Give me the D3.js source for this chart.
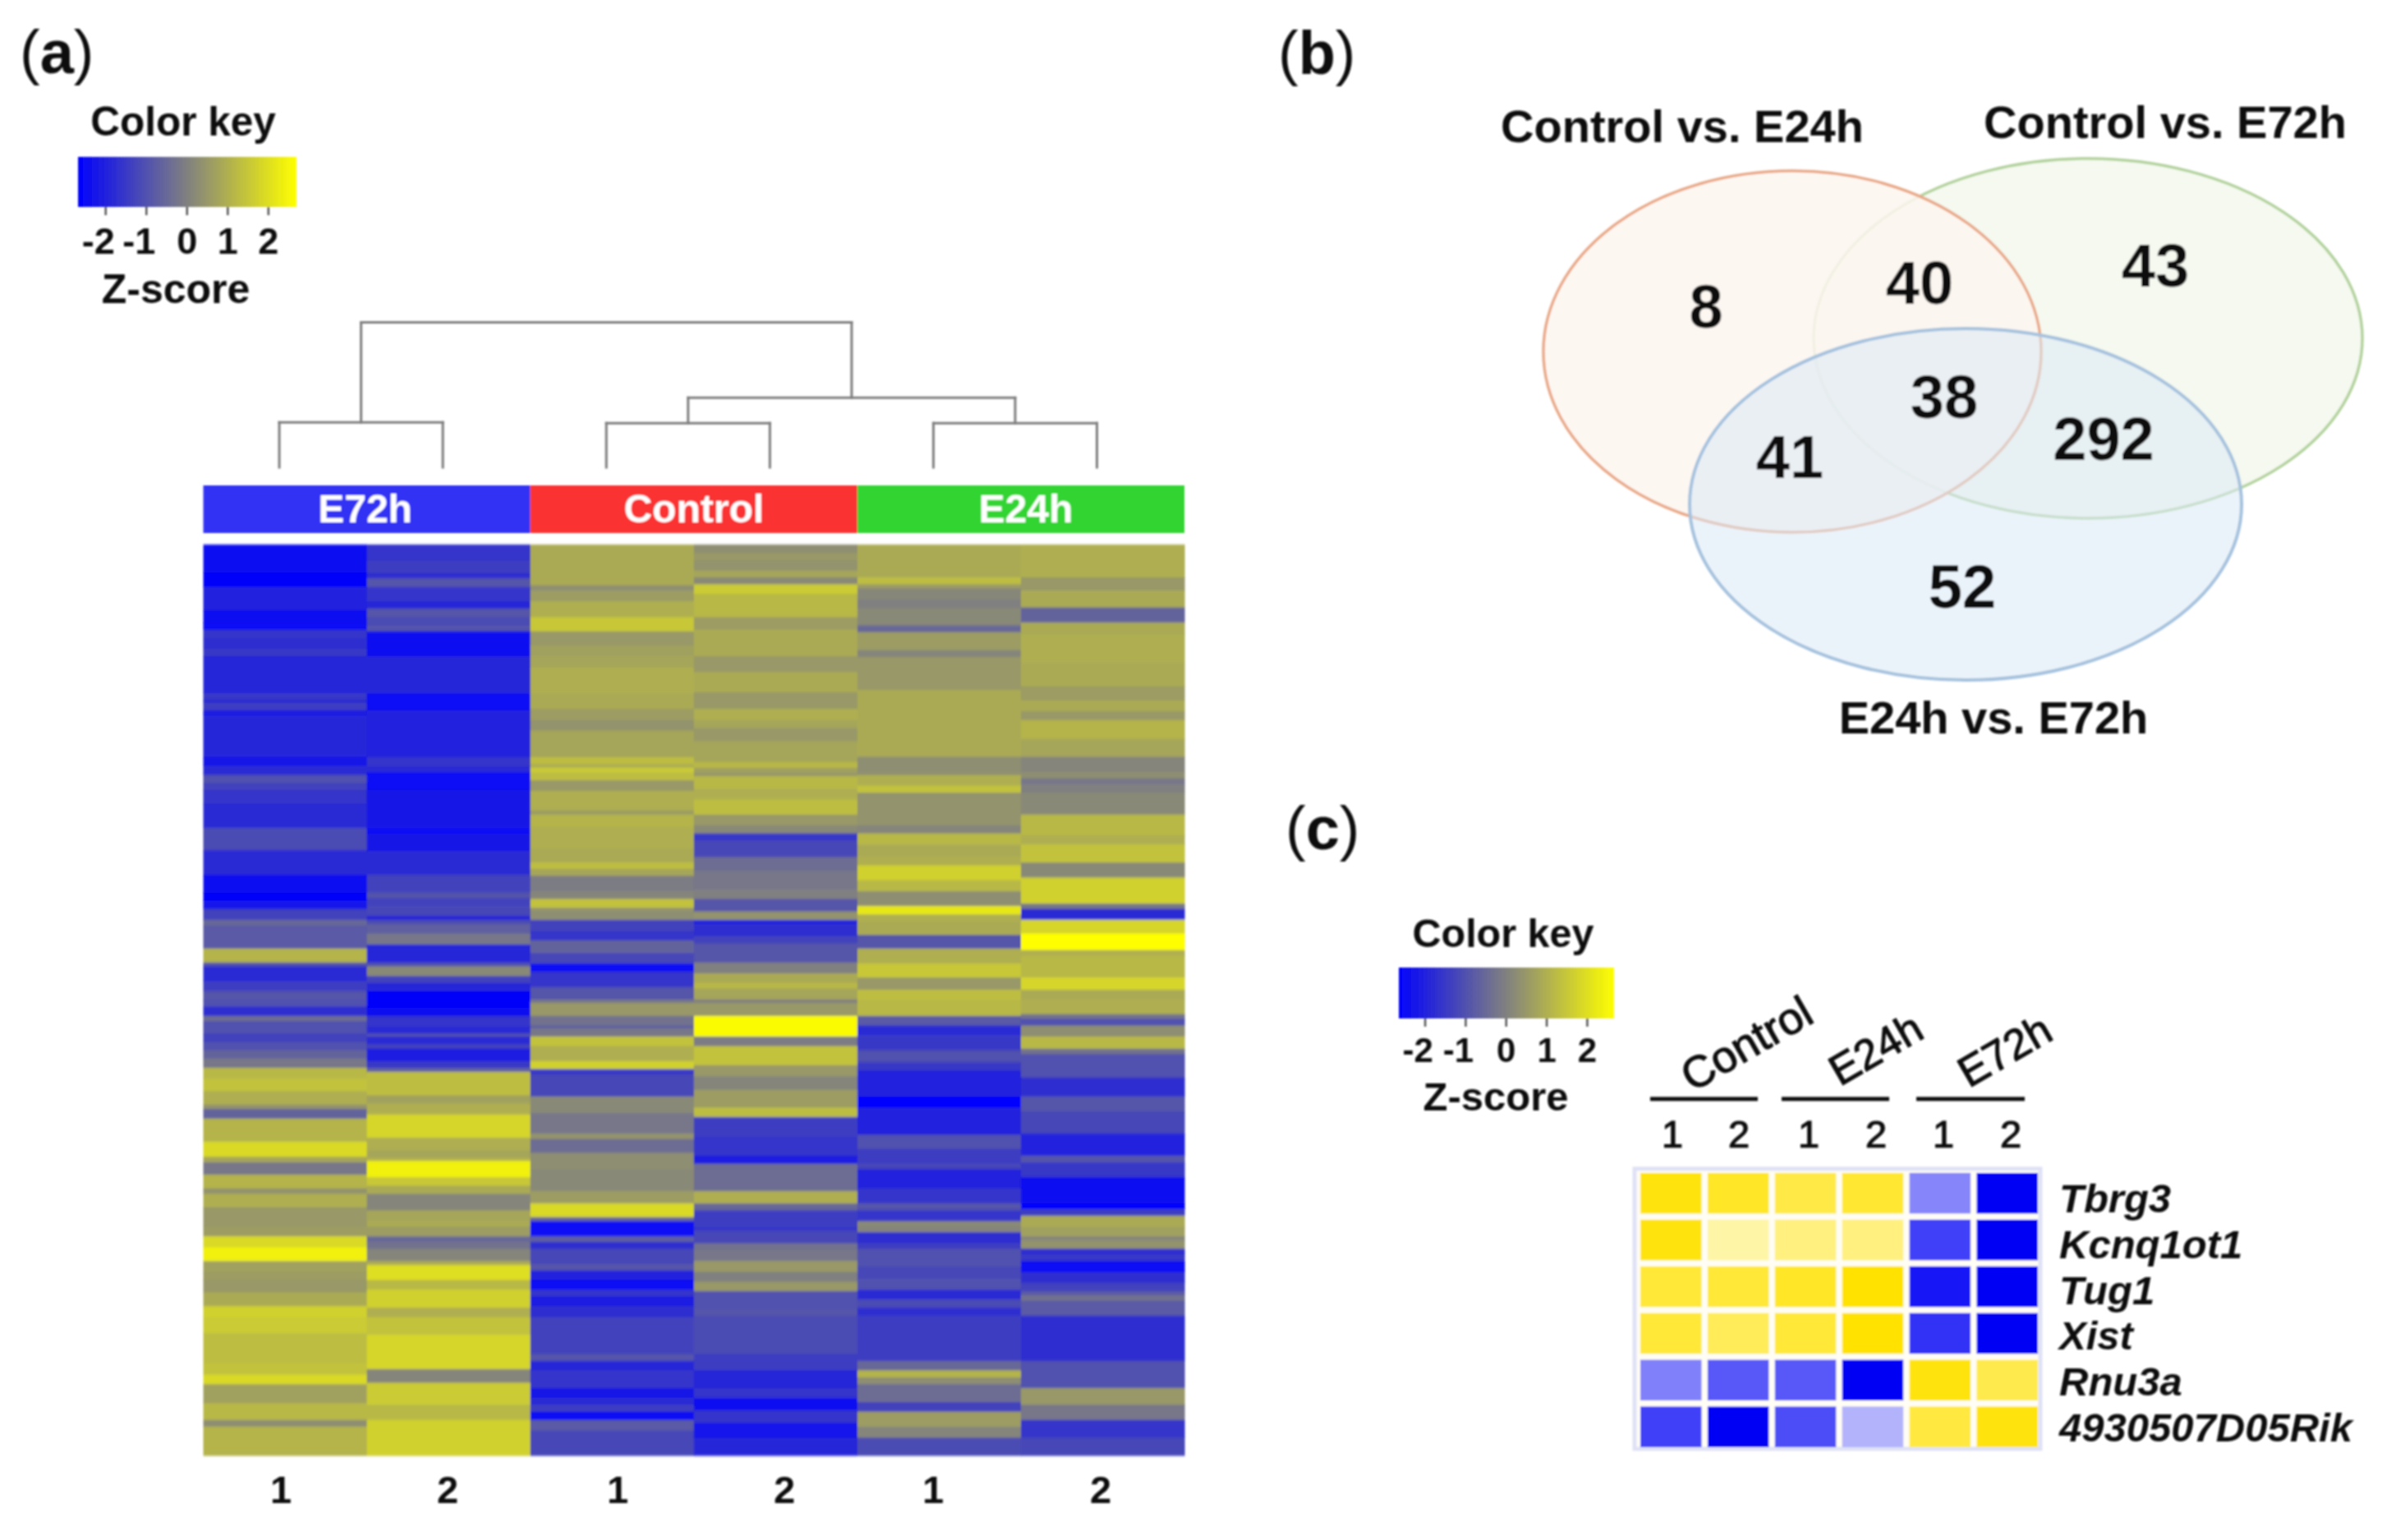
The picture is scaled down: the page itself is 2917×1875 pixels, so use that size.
<!DOCTYPE html>
<html><head><meta charset="utf-8">
<script src="https://cdn.jsdelivr.net/npm/d3@7/dist/d3.min.js"></script>
<style>html,body{margin:0;padding:0;background:#fff;overflow:hidden}svg{display:block}text{font-family:"Liberation Sans",Arial,sans-serif;fill:#111}</style>
</head><body>
<script>
// ---- Panel (a) data: heat-map columns as [last row, z-score] runs over 514 genes
const e72h1=[[15.5,-2.4],[24,-2.6],[37,-2.0],[44,-2.4],[48,-2.5],[52.5,-1.6],[58.7,-1.7],[63,-1.5],[84,-1.9],[87,-1.5],[89.6,-1.7],[93.5,-1.4],[96.6,-2.1],[119.7,-1.9],[125,-2.2],[128.4,-1.8],
[130,-1.8],[134.6,-1],[138.4,-1.3],[146,-1.6],[160,-1.8],[172.4,-1.1],[186.3,-1.8],[196.4,-2.4],[201,-2.6],[205.6,-2.3],[211.8,-1.3],[215,-.5],[228,-.8],[235.8,1.1],[238,-.9],[246.6,-1.8],[252,-1.4],[256.7,-.9],
[260.6,-1],[266,-1.7],[269,-.4],[276,-1],[280.6,-1.3],[285.3,-1],[290,-.6],[295.3,-.2],[301.5,1.2],[308.5,1.4],[316,1],[318.5,.4],[324,-.6],[337,1.1],[345.5,1.9],[348.6,.8],[355.6,-.2],[363.3,1.1],[366.4,.4],[374,1],[385,.5],
[390.4,.6],[396.6,1.9],[404.3,2.4],[410.5,.7],[415,.6],[422,.5],[429.8,.9],[436,1.7],[445,1.6],[462,1.3],[468.4,1.4],[473.8,1.9],[484.6,.7],[494,1.2],[497.8,.3],[514,1.1]];
const e72h2=[[9,-1.6],[16,-1.4],[19,-1.7],[24,-.9],[32,-1.6],[36,-1.9],[41,-.9],[46,-1.1],[49,-.9],[63,-2.4],[84,-1.9],[93.5,-2.5],[120,-2],[125,-1.6],[128.4,-1.8],
[138.4,-2.5],[160,-2.2],[163,-2.5],[173,-2.2],[186.3,-1.8],[196.4,-1.3],[199.5,-.9],[204,-1.3],[209.5,-1.2],[211.8,-1.9],[214,-1.1],[219.5,-.7],[225.7,-.2],[235.8,-1.9],[238,-1],[243.5,.2],[247.4,-1.3],[252,-1.9],[256.7,-2.6],
[261.3,-2.6],[266,-2.4],[272,-1.6],[276,-1.8],[277.6,-.9],[282,-1.8],[284.5,-1.3],[291.5,-2.1],[295.3,-1.5],[297.6,-.7],[310.8,1.3],[315.4,.7],[321.6,1],[334.7,1.8],[341.7,1],[346.3,.8],[347.9,1.1],[357,2.4],[361.8,1.5],[366.4,.9],[375.7,.1],[381.8,.8],[385,.9],
[390.4,.6],[393.5,-.5],[397.4,-.3],[404.3,.1],[406.6,.9],[415,2],[420.5,1.2],[430.6,1.7],[436,1],[446,1.4],[465.3,1.8],[473,.1],[485.4,1.6],[494,1.2],[514,1.7]];
const control1=[[23,.9],[26,.3],[32,.6],[41,1],[49,1.5],[57,.5],[63,.7],[69.5,.8],[83.5,1],[92.7,.9],[99,.6],[105,.4],[120,.8],[123.6,1.3],[126,1],[128.4,1.6],
[133,1.3],[139,.5],[150,1],[152.4,.6],[159.3,1.1],[171.7,1],[179.4,.9],[183,1.3],[187,.8],[195.6,-.1],[200,.1],[205,1.4],[207,.4],[211.8,.3],[218,-1.3],[223.4,-1.6],[230.4,-.6],[236.5,-1.2],[241,-2.5],[249.7,-1.6],[256.7,-.9],
[258.6,-.2],[266,.5],[271.4,-.3],[273,-.7],[277.6,-.2],[283,1.4],[291.5,1],[296,1.7],[299,-1.5],[311.5,-1.2],[320.8,.2],[332.4,-.2],[335.5,.4],[343.2,-.4],[352.5,.3],[364.9,.2],[371.8,.6],[379.5,1.9],[381.8,-.5],[385,-2.5],
[390.4,-2.5],[393.5,-.7],[397.4,-1.7],[405.9,-1.2],[409.7,-.9],[415,-2],[420.5,-2.5],[424.4,-1.6],[429.8,-2.1],[436,-1.7],[456.8,-1.3],[460.7,-.9],[466,-1.9],[476,-1.6],[481.6,-2.2],[485.4,-1.8],[489.3,-1.4],[494,-2.5],[500,-.8],[514,-1.2]];
const control2=[[4.6,.3],[9,.5],[14.7,.4],[18.5,.8],[22.4,.2],[27.8,1.6],[41,1.2],[48,.6],[63,.9],[72,.5],[83.4,.9],[92.7,.5],[99,1],[103.5,.8],[111,.5],[122.8,.8],[126,1.2],[128.4,.7],
[130.7,.5],[137.7,1.2],[143.9,1],[152.4,1.3],[158.5,.5],[163,.2],[167,-1.5],[176.3,-1.2],[184,-.4],[194.8,-.2],[200,0],[207,-.9],[211.8,.4],[214,-2],[221,-1.7],[225,-1.3],[235.8,-.9],[242,0],[247.4,.9],[250.5,1.2],[256.7,.8],
[258.6,0],[266,.5],[277.6,2.6],[283,-.1],[293.8,1.4],[300,.5],[307.7,.1],[317.7,.6],[323,1.3],[334,-1.4],[344.8,-1.6],[349.4,-2.1],[364.9,-.4],[371.8,1],[375.7,-.5],[385,-1.4],
[387.3,-1.5],[394.3,-1.2],[398,-.3],[404.3,-.2],[410.5,.5],[416,0],[421.3,.5],[431.4,-1],[435.2,-.9],[456.8,-1.1],[466,-1.4],[476,-1.9],[481.6,-1.6],[488.5,-2.4],[495.5,-1.6],[504,-2.3],[514,-1.9]];
const e24h1=[[18.5,.9],[22.4,1.3],[24.7,.6],[31,.15],[36,0],[42.5,.2],[45.6,.2],[49.4,-.5],[59.5,.6],[63.4,.1],[82,.5],[92.7,.9],[119.7,.9],[128.4,.3],
[130,.3],[136,1],[140,1.4],[158.5,.4],[163,.1],[169.3,1.2],[176.3,.9],[181,1],[189.4,1.7],[195.6,1.2],[204,.3],[208.7,2.2],[212.6,1],[220.3,.9],[228,-.9],[236.5,1],[244.3,1.5],[251.2,.5],[256.7,1.3],
[266,1.2],[271.4,-.8],[276.8,-1.8],[285.3,-1.5],[292.2,-1],[296.9,-1.5],[311.5,-2],[317.7,-2.7],[333,-2],[341,-1],[349.4,-1.4],[352.5,-1.2],[363.3,-2],[371.8,-1.6],[375.7,-.9],[381.8,-1.6],[385,.2],
[388,.1],[394.3,-1.7],[397.4,-1.4],[407.4,-1],[414.4,-1.2],[420.5,-1],[426,-1.8],[430.6,-1.1],[435.2,-1.7],[460.7,-1.4],[466,-.5],[470,1.1],[473.8,.3],[483.9,-.4],[489.3,-1.3],[497.8,.6],[504,.1],[514,-1.1]];
const e24h2=[[18.5,1],[26,.5],[35.5,.9],[44,-.6],[51,.9],[66.4,1],[80,.9],[88,.6],[94,.9],[99,.5],[109.7,1.1],[119.7,.8],[128.4,.1],
[132,.3],[135.4,-.2],[140,0],[152.4,.2],[164,1.2],[169.3,1],[179.4,1.4],[187.9,.2],[202.6,1.7],[205.6,-.2],[211.8,-1.8],[219.5,1.8],[228.8,2.7],[232,1],[244.3,1.2],[251.2,1.8],[256.7,.9],
[265,1],[267.5,-.3],[271.4,-1],[277.6,.3],[284.5,1.2],[287.6,-.3],[300.7,-1],[311.5,-1.7],[320,-.9],[332.4,-1.2],[344.8,-2],[348.6,-.9],[357,-1.5],[371.8,-2.4],[375,-2.7],[378.8,-1.4],[385,.9],
[390.4,.7],[392.7,.1],[397.4,.4],[401,-1.7],[404.3,-1.5],[410.5,-2.5],[416.7,-1.7],[421.3,-1.3],[423.6,-.8],[426.7,-.3],[435.2,-.8],[460.7,-1.7],[476,-1],[485.4,.5],[494,-.2],[504,-1.6],[514,-1.2]];
const groupsA=["E72h","Control","E24h"];
const groupColorsA=["#3333f5","#fb3333","#33d433"];
const sampleLabelsA=["1","2","1","2","1","2"];
const keyTicks=[-2,-1,0,1,2];
// dendrogram merge heights (fraction of the root height)
const dendroHeights={e72h:.31,control:.305,e24h:.305,controlE24h:.48,root:1};
// ---- Panel (b) data
const vennSets=["Control vs. E24h","Control vs. E72h","E24h vs. E72h"];
const vennCounts=[8,40,43,38,292,41,52];
// ---- Panel (c) data
const genes=["Tbrg3","Kcnq1ot1","Tug1","Xist","Rnu3a","4930507D05Rik"];
const groupsC=["Control","E24h","E72h"];
const sampleLabelsC=["1","2","1","2","1","2"];
const zTbrg3=[1.9,1.7,1.45,1.6,-.95,-2];
const zKcnq1ot1=[1.9,.7,1.0,1.0,-1.5,-2];
const zTug1=[1.55,1.55,1.7,1.95,-1.8,-2];
const zXist=[1.55,1.3,1.55,1.95,-1.6,-2];
const zRnu3a=[-1.0,-1.3,-1.3,-2,1.9,1.4];
const z4930507=[-1.5,-2,-1.4,-.6,1.5,1.9];

// ---- layout
const W=2917,H=1875;
const svg=d3.select("body").append("svg").attr("width",W).attr("height",H).attr("viewBox",`0 0 ${W} ${H}`);
svg.append("rect").attr("width",W).attr("height",H).attr("fill","#fff");
const defs=svg.append("defs");
const soft=defs.append("filter").attr("id","soft").attr("x","-2%").attr("y","-2%").attr("width","104%").attr("height","104%");
soft.append("feGaussianBlur").attr("stdDeviation",1.2);
const softV=defs.append("filter").attr("id","softV").attr("x","0").attr("y","-1%").attr("width","100%").attr("height","102%");
softV.append("feGaussianBlur").attr("stdDeviation","0.4 1.3");
const root=svg.append("g").attr("filter","url(#soft)");

const bold=(s,x,y,size,anchor="middle")=>root.append("text").attr("x",x).attr("y",y).attr("font-size",size).attr("font-weight",700).attr("text-anchor",anchor).text(s);
function panelLabel(letter,x,y){
  const t=root.append("text").attr("x",x).attr("y",y).attr("font-size",74);
  t.append("tspan").text("(");
  t.append("tspan").attr("font-weight",700).text(letter);
  t.append("tspan").text(")");
}
const heatColor=d3.scaleLinear().domain([-2.7,0,2.7]).range(["#0000ff","#808080","#ffff00"]);

function colorKey(id,x0,x1,y0,y1,domain,titleY,titleX,tickY,tickSize,zY,zX,titleSize,zSize){
  const s=d3.scaleLinear().domain(domain).range([x0,x1]);
  const g=defs.append("linearGradient").attr("id",id);
  d3.range(0,1.001,.1).forEach(t=>g.append("stop").attr("offset",t).attr("stop-color",heatColor(domain[0]+t*(domain[1]-domain[0]))));
  root.append("rect").attr("x",x0).attr("y",y0).attr("width",x1-x0).attr("height",y1-y0).attr("fill",`url(#${id})`);
  bold("Color key",titleX,titleY,titleSize);
  const ax=root.append("g").attr("transform",`translate(0,${y1})`).call(d3.axisBottom(s).tickValues(keyTicks).tickSize(10).tickPadding(tickY-y1-10-tickSize*.72).tickFormat(d3.format("d")));
  ax.select(".domain").remove();
  ax.selectAll("line").attr("stroke","#555").attr("stroke-width",2.5);
  ax.selectAll("text").attr("font-size",tickSize).attr("font-weight",700).attr("dx",d=>d<0?-9:0).text(d=>d<0?"-"+(-d):d);
  bold("Z-score",zX,zY,zSize);
}

// ---- (a)
panelLabel("a",24,89);
colorKey("keyA",95,361,191,252,[-2.67,2.70],165,223,309,45,369,214,49.5,50);

const columnsA=[e72h1,e72h2,control1,control2,e24h1,e24h2];
const colIdx=d3.range(columnsA.length);
const xA=d3.scaleBand().domain(colIdx).range([247.5,1442]);
const rowCount=514;
const yA=d3.scaleLinear().domain([0,rowCount]).range([663,1772]);
const heat=root.append("g").attr("filter","url(#softV)");
columnsA.forEach((col,i)=>{
  const runs=col.map((r,k)=>({start:k?col[k-1][0]:0,end:r[0],z:r[1]}));
  heat.selectAll(null).data(runs).join("rect")
    .attr("x",xA(i)).attr("width",xA.bandwidth()+.5)
    .attr("y",d=>yA(d.start)).attr("height",d=>yA(d.end)-yA(d.start)+.6)
    .attr("fill",d=>heatColor(d.z));
});
// group colour bars
root.append("g").selectAll("rect").data(groupsA).join("rect")
  .attr("x",(d,i)=>xA(i*2)).attr("width",xA.bandwidth()*2).attr("y",591).attr("height",58)
  .attr("fill",(d,i)=>groupColorsA[i]);
const barTextDx=[-2,0,6];
root.append("g").selectAll("text").data(groupsA).join("text")
  .attr("x",(d,i)=>xA(i*2)+xA.bandwidth()+barTextDx[i]).attr("y",636).attr("text-anchor","middle")
  .attr("font-size",48).attr("font-weight",700).style("fill","#fff").text(d=>d);
// sample labels
const xLabelsA=[342,545,752,955,1136,1340];
root.append("g").selectAll("text").data(sampleLabelsA).join("text")
  .attr("x",(d,i)=>xLabelsA[i]).attr("y",1830).attr("text-anchor","middle")
  .attr("font-size",47).attr("font-weight",700).text(d=>d);
// dendrogram
const leaf=i=>({leaf:i});
const tree={h:dendroHeights.root,children:[
  {h:dendroHeights.e72h,children:[leaf(0),leaf(1)]},
  {h:dendroHeights.controlE24h,children:[
    {h:dendroHeights.control,children:[leaf(2),leaf(3)]},
    {h:dendroHeights.e24h,children:[leaf(4),leaf(5)]}]}]};
const yD=d3.scaleLinear().domain([0,1]).range([569,392.5]);
const xD=i=>xA(i)+xA.bandwidth()/2-7;
const segs=[];
(function walk(n){
  if(n.children){n.children.forEach(walk);n.x=d3.mean(n.children,c=>c.x);
    n.children.forEach(c=>segs.push([c.x,yD(c.h),c.x,yD(n.h)]));
    segs.push([n.children[0].x,yD(n.h),n.children[1].x,yD(n.h)]);
  } else {n.x=xD(n.leaf);n.h=0;}
})(tree);
root.append("g").selectAll("line").data(segs).join("line")
  .attr("x1",d=>d[0]).attr("y1",d=>d[1]).attr("x2",d=>d[2]).attr("y2",d=>d[3])
  .attr("stroke","#7f7f7f").attr("stroke-width",3).attr("stroke-linecap","square");

// ---- (b)
panelLabel("b",1556,90);
const vennEllipses=[
 {cx:2542,cy:412,rx:334,ry:219,fill:"#f5f9f0",op:1,stroke:"#b2d29c",sw:3.5},
 {cx:2182,cy:428,rx:303,ry:220,fill:"#fdf6f0",op:.85,stroke:"#e9a988",sw:3.5},
 {cx:2393,cy:614,rx:336,ry:214,fill:"#dbe9f6",op:.55,stroke:"#a6c2de",sw:4}];
root.append("g").selectAll("ellipse").data(vennEllipses).join("ellipse")
  .attr("cx",d=>d.cx).attr("cy",d=>d.cy).attr("rx",d=>d.rx).attr("ry",d=>d.ry)
  .attr("fill",d=>d.fill).attr("fill-opacity",d=>d.op)
  .attr("stroke",d=>d.stroke).attr("stroke-width",d=>d.sw);
const vennTitlePos=[[2048,173],[2636,168],[2427,893]];
vennSets.forEach((s,i)=>bold(s,vennTitlePos[i][0],vennTitlePos[i][1],56));
const vennCountPos=[[2077,399],[2337,370],[2624,349],[2367,509],[2561,560],[2179,582],[2389,740]];
vennCounts.forEach((v,i)=>bold(String(v),vennCountPos[i][0],vennCountPos[i][1],74));

// ---- (c)
panelLabel("c",1565,1034);
colorKey("keyC",1703,1965,1178,1240,[-2.64,2.67],1153,1830,1293,42,1352,1821,48.5,49);
const matC=[zTbrg3,zKcnq1ot1,zTug1,zXist,zRnu3a,z4930507];
const colC=d3.scaleLinear().domain([-2,0,2]).range(["#0000f5","#ffffff","#ffe100"]);
const xC=d3.scaleBand().domain(d3.range(6)).range([1997,2481]).paddingInner(.09);
const yC=d3.scaleBand().domain(genes).range([1428,1762]).paddingInner(.13);
root.append("rect").attr("x",1990).attr("y",1423).attr("width",494).attr("height",341).attr("fill","#fffdf4").attr("stroke","#dfe2f5").attr("stroke-width",5);
matC.forEach((row,r)=>{
  root.append("g").selectAll("rect").data(row).join("rect")
    .attr("x",(d,i)=>xC(i)).attr("width",xC.bandwidth()).attr("y",yC(genes[r])).attr("height",yC.bandwidth())
    .attr("fill",d=>colC(d));
});
const yGeneLabel=d3.scalePoint().domain(genes).range([1476,1755]);
root.append("g").selectAll("text").data(genes).join("text")
  .attr("x",2507).attr("y",d=>yGeneLabel(d)).attr("font-size",49).attr("font-weight",700).attr("font-style","italic").text(d=>d);
const xSampleC=[2036,2117,2202,2284,2366,2448];
root.append("g").selectAll("text").data(sampleLabelsC).join("text")
  .attr("x",(d,i)=>xSampleC[i]).attr("y",1397).attr("text-anchor","middle").attr("font-size",47).style("stroke","#111").style("stroke-width",1.2).text(d=>d);
const groupBar=[[2009,2140],[2169,2300],[2333,2465]];
root.append("g").selectAll("line").data(groupBar).join("line")
  .attr("x1",d=>d[0]).attr("x2",d=>d[1]).attr("y1",1338).attr("y2",1338).attr("stroke","#111").attr("stroke-width",5);
const groupLabelPos=[[2127,1272],[2284,1278],[2441,1280]];
root.append("g").selectAll("text").data(groupsC).join("text")
  .attr("transform",(d,i)=>`translate(${groupLabelPos[i][0]},${groupLabelPos[i][1]}) rotate(-30)`)
  .attr("text-anchor","middle").attr("dy",17).attr("font-size",(d,i)=>i?52:54).style("stroke","#111").style("stroke-width",1.2).text(d=>d);
</script>
</body></html>
